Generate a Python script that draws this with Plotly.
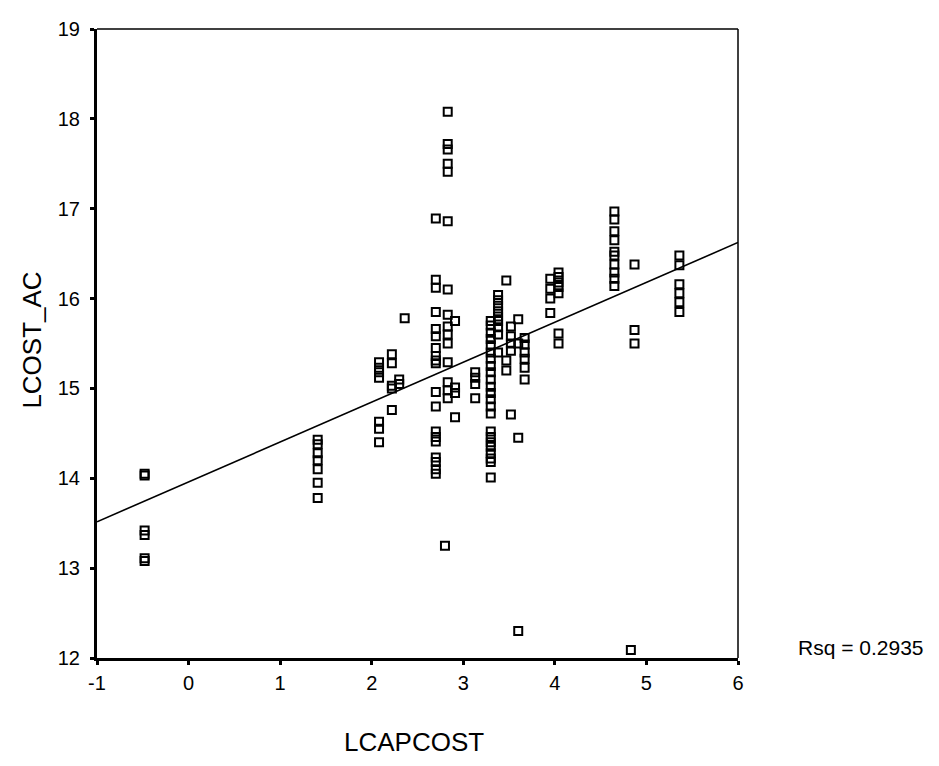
import plotly.graph_objects as go

# LCAPCOST column positions and LCOST_AC values read for each column
col_x = [-0.48, 1.41, 2.08, 2.22, 2.3, 2.36, 2.7, 2.8, 2.83, 2.91, 3.13,
         3.3, 3.38, 3.47, 3.52, 3.6, 3.67, 3.95, 4.04, 4.65, 4.83, 4.87, 5.36]
col_y = [
    [14.05, 14.03, 13.42, 13.37, 13.11, 13.08],
    [14.43, 14.38, 14.28, 14.2, 14.1, 13.95, 13.78],
    [15.29, 15.23, 15.18, 15.12, 14.63, 14.55, 14.4],
    [15.38, 15.28, 15.03, 15.0, 14.76],
    [15.05, 15.1],
    [15.78],
    [16.89, 16.21, 16.12, 15.85, 15.66, 15.58, 15.45, 15.36, 15.31, 15.28,
     14.96, 14.8, 14.52, 14.46, 14.41, 14.23, 14.18, 14.1, 14.05],
    [13.25],
    [18.08, 17.72, 17.66, 17.5, 17.41, 16.86, 16.1, 15.82, 15.69, 15.6,
     15.5, 15.29, 15.07, 14.98, 14.89],
    [15.75, 15.01, 14.95, 14.68],
    [15.18, 15.12, 15.05, 14.89],
    [15.75, 15.7, 15.62, 15.55, 15.48, 15.4, 15.33, 15.25, 15.18, 15.1,
     15.02, 14.95, 14.88, 14.8, 14.72, 14.52, 14.46, 14.4, 14.35, 14.28,
     14.22, 14.18, 14.01],
    [16.04, 15.98, 15.92, 15.86, 15.8, 15.75, 15.68, 15.6, 15.4],
    [16.2, 15.31, 15.2],
    [15.69, 15.58, 15.5, 15.42, 14.71],
    [15.77, 15.5, 14.45, 12.3],
    [15.56, 15.49, 15.4, 15.33, 15.23, 15.1],
    [16.22, 16.11, 16.0, 15.84],
    [16.29, 16.24, 16.18, 16.13, 16.06, 15.61, 15.5],
    [16.97, 16.88, 16.75, 16.65, 16.52, 16.48, 16.38, 16.29, 16.22, 16.14],
    [12.09],
    [16.38, 15.65, 15.5],
    [16.48, 16.37, 16.16, 16.06, 15.96, 15.85],
]

# fitted line
fit_intercept = 13.96
fit_slope = 0.444
rsq_label = "Rsq = 0.2935"

x_range = [-1, 6]
y_range = [12, 19]
x_ticks = [-1, 0, 1, 2, 3, 4, 5, 6]
x_tick_labels = ["-1", "0", "1", "2", "3", "4", "5", "6"]
y_ticks = [12, 13, 14, 15, 16, 17, 18, 19]

xs, ys = [], []
for cx, vals in zip(col_x, col_y):
    for v in vals:
        xs.append(cx)
        ys.append(v)

font = "Liberation Sans, Arial, sans-serif"

fig = go.Figure()
fig.add_trace(go.Scatter(
    x=[x_range[0], x_range[1]],
    y=[fit_intercept + fit_slope * x_range[0], fit_intercept + fit_slope * x_range[1]],
    mode="lines", line=dict(color="black", width=1.6), showlegend=False,
    hoverinfo="skip"))
fig.add_trace(go.Scatter(
    x=xs, y=ys, mode="markers",
    marker=dict(symbol="square-open", size=8, color="black",
                line=dict(color="black", width=2)),
    showlegend=False))

fig.update_layout(
    width=923, height=750,
    margin=dict(l=89, r=193, t=10, b=100),
    paper_bgcolor="white", plot_bgcolor="white",
    font=dict(family=font, color="black", size=20),
    xaxis=dict(range=x_range, tickvals=x_ticks, ticktext=x_tick_labels,
               showgrid=False, zeroline=False,
               showline=True, linecolor="black", linewidth=3,
               ticks="outside", ticklen=4, tickwidth=3, tickcolor="black",
               ticklabelstandoff=1, ticklabeloverflow="allow",
               tickfont=dict(size=20, family=font)),
    yaxis=dict(range=y_range, tickvals=y_ticks, showgrid=False, zeroline=False,
               showline=True, linecolor="black", linewidth=3,
               ticks="outside", ticklen=4, tickwidth=3, tickcolor="black",
               ticklabelstandoff=6, ticklabeloverflow="allow",
               tickfont=dict(size=20, family=font)),
    shapes=[
        dict(type="line", xref="paper", yref="paper", x0=0, x1=1, y0=1, y1=1,
             line=dict(color="black", width=1.5)),
        dict(type="line", xref="paper", yref="paper", x0=1, x1=1, y0=0, y1=1,
             line=dict(color="black", width=1.5)),
    ],
    annotations=[
        dict(text="LCOST_AC", xref="paper", yref="paper", x=-0.101, y=0.505,
             textangle=-90, showarrow=False, font=dict(size=26, family=font),
             xanchor="center", yanchor="middle"),
        dict(text="LCAPCOST", xref="paper", yref="paper", x=0.4945, y=-0.133,
             showarrow=False, font=dict(size=26, family=font),
             xanchor="center", yanchor="middle"),
        dict(text=rsq_label, xref="paper", yref="paper", x=1.09, y=0.017,
             showarrow=False, font=dict(size=21, family=font),
             xanchor="left", yanchor="middle"),
    ],
)

fig.write_html("out.html")
